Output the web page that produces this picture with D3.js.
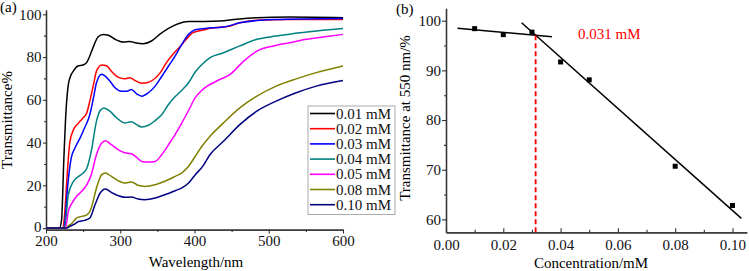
<!DOCTYPE html>
<html>
<head>
<meta charset="utf-8">
<script src="https://cdn.jsdelivr.net/npm/d3@7"></script>
<style>
    body { margin: 0; background: #fff; }
    svg text { font-family: "Liberation Serif", "Times New Roman", serif; }
</style>
</head>
<body>
<div id="vis"></div>
<script>

////////////////////////////////////////
////////////// Data ////////////////////
////////////////////////////////////////

// (a) transmittance spectra, [wavelength nm, T %]
const t001 = [[200,0],[218,0],[221,4],[224,32],[227,55],[230,67],[233,71],[237,73.5],[243,75.8],[250,76.3],[255,77.5],[259,80.5],[264,85],[270,89.4],[277,90.6],[284,90.2],[293,88.3],[304,87],[313,87.3],[320,86.7],[331,86.2],[342,87.5],[353,90.6],[365,93.4],[378,95.6],[392,96.6],[414,96.6],[434,96.8],[457,97.7],[484,98.4],[528,98.7],[600,98.4]]
const t002 = [[200,0],[222,0],[225,6],[228,22],[232,40],[237,46],[244,49.2],[250,51.6],[255,54],[259,59.4],[264,67.2],[268,73.4],[275,76.3],[282,75.8],[288,73.4],[297,70.6],[306,69.8],[313,70.3],[320,69],[329,67.8],[336,68],[345,69.5],[354,72.7],[362,77.3],[371,81.3],[380,84.7],[389,88.3],[398,91.4],[414,92.8],[421,93.4],[448,94.5],[461,96],[484,97.2],[528,97.6],[600,97.6]]
const t003 = [[200,0],[224,0],[226,5],[229,18.8],[234,32.8],[239,37.5],[246,42.2],[252,46.9],[259,53],[264,61],[268,68],[275,71.9],[280,71],[286,68.8],[293,65.6],[302,64],[309,64],[315,64.8],[322,62.8],[329,61.7],[338,63.3],[347,66.4],[356,71],[365,75.8],[374,80.5],[383,86],[392,90.6],[401,92.8],[414,93.4],[439,94],[461,96],[506,97.5],[600,98]]
const t004 = [[200,0],[225,0],[227,5],[230,15.6],[237,21.9],[244,24.2],[250,25.8],[255,28],[261,36],[268,50],[273,55],[278,56.2],[286,54.7],[295,51.6],[306,49.2],[315,49.7],[322,48.4],[329,47.3],[338,48.1],[347,50.3],[356,53.1],[365,57.8],[374,61.5],[383,64.5],[392,68],[401,73],[410,76.5],[421,79.7],[439,82],[461,85.2],[484,88.3],[510,89.8],[542,91.4],[573,92.5],[600,93.4]]
const t005 = [[200,0],[226,0],[228,3],[230,7.8],[235,11.7],[241,14.8],[248,17.2],[255,20.3],[261,25],[268,34.4],[275,39.8],[280,40.9],[288,39],[297,36.7],[306,35.2],[315,34.8],[322,33.1],[329,31.2],[338,30.9],[347,31.2],[356,34.4],[365,39],[374,43.8],[383,49.2],[392,55],[401,61],[410,64.5],[430,68.8],[448,71.9],[466,78],[484,82.8],[506,85.2],[528,86.7],[551,88.3],[573,89.4],[600,90.6]]
const t008 = [[200,0],[227,0],[230,1],[235,2.3],[241,4.7],[248,5.5],[255,6.2],[261,9.4],[268,18.8],[275,25],[280,25.8],[288,24.2],[297,22.2],[306,21.1],[315,21.6],[324,20],[333,19.5],[347,20.3],[360,21.9],[374,24.2],[383,25.8],[392,28.9],[401,33.6],[410,38.3],[421,43],[439,49.2],[461,56.2],[484,61.7],[510,66.4],[537,69.8],[564,72.7],[600,75.8]]
const t010 = [[200,0],[228,0],[232,0.8],[237,1.6],[244,3.1],[252,3.6],[259,4.7],[266,10.9],[273,16.4],[280,18.3],[288,16.7],[297,15.2],[306,14.4],[315,14.5],[324,13.6],[333,13.3],[347,14.1],[360,15.6],[374,17.5],[383,18.8],[392,21.1],[401,25],[410,28.4],[421,34.4],[439,40.6],[461,48.4],[484,54.7],[510,59.4],[537,63.3],[564,66.4],[600,69]]

const seriesLabels = ['0.01 mM', '0.02 mM', '0.03 mM', '0.04 mM', '0.05 mM', '0.08 mM', '0.10 mM']
const seriesData = [t001, t002, t003, t004, t005, t008, t010]
const seriesColors = ['#000000', '#ff0000', '#0000ff', '#008080', '#ff00ff', '#808000', '#000080']

const xTicksA = [200, 300, 400, 500, 600]
const yTicksA = [0, 20, 40, 60, 80, 100]

// (b) transmittance at 550 nm vs concentration
const concentration = [0.01, 0.02, 0.03, 0.04, 0.05, 0.08, 0.10]
const trans550 = [98.4, 97.2, 97.7, 91.7, 88.1, 70.7, 62.8]

// two linear fits: slope, intercept, x-range
const fitSlopes = [-51.5, -513.7]
const fitIntercepts = [98.7, 113.16]
const fitRanges = [[0.004, 0.037], [0.0264, 0.1031]]
const breakLabel = '0.031 mM'

const xTicksB = [0, 0.02, 0.04, 0.06, 0.08, 0.10]
const yTicksB = [60, 70, 80, 90, 100]

////////////////////////////////////////
////////////// SVG Setup ///////////////
////////////////////////////////////////

const W = 749, H = 271
const axisColor = '#333'
const fontSize = 15

const svg = d3.select('#vis').append('svg')
    .attr('width', W)
    .attr('height', H)

function styleAxis(g) {
    g.select('.domain').attr('stroke', axisColor).attr('stroke-width', 1.3)
    g.selectAll('.tick line').attr('stroke', axisColor).attr('stroke-width', 1.1)
    g.selectAll('.tick text')
        .attr('fill', '#111')
        .style('font-size', fontSize + 'px')
        .style('font-family', '"Liberation Serif", serif')
}

////////////////////////////////////////
////////////// Panel (a) ///////////////
////////////////////////////////////////

const xA = d3.scaleLinear().domain([200, 600]).range([46, 343])
const yA = d3.scaleLinear().domain([-0.7, 102]).range([229.6, 10])

const gA = svg.append('g')

// minor ticks
gA.append('g')
    .attr('transform', `translate(0,${yA.range()[0]})`)
    .call(d3.axisBottom(xA).tickValues(d3.range(250, 600, 100)).tickSize(2.5).tickSizeOuter(0).tickFormat(''))
    .call(styleAxis)
gA.append('g')
    .attr('transform', `translate(${xA.range()[0]},0)`)
    .call(d3.axisLeft(yA).tickValues(d3.range(10, 100, 20)).tickSize(2).tickSizeOuter(0).tickFormat(''))
    .call(styleAxis)

gA.append('g')
    .attr('transform', `translate(0,${yA.range()[0]})`)
    .call(d3.axisBottom(xA).tickValues(xTicksA).tickSize(4).tickPadding(2).tickSizeOuter(0))
    .call(styleAxis)

gA.append('g')
    .attr('transform', `translate(${xA.range()[0]},0)`)
    .call(d3.axisLeft(yA).tickValues(yTicksA).tickSize(3).tickPadding(1.5).tickSizeOuter(0))
    .call(styleAxis)

// nudge the "0" label up a touch so it clears "200"
gA.selectAll('.tick text').filter(d => d === 0).attr('dy', '0.2em')

const lineA = d3.line()
    .x(d => xA(d[0]))
    .y(d => yA(d[1]))
    .curve(d3.curveMonotoneX)

gA.selectAll('.spectrum')
    .data(seriesData)
    .join('path')
    .attr('class', 'spectrum')
    .attr('d', lineA)
    .attr('fill', 'none')
    .attr('stroke', (d, i) => seriesColors[i])
    .attr('stroke-width', 1.5)

// legend
const legend = gA.append('g')
legend.append('rect')
    .attr('x', 308).attr('y', 106)
    .attr('width', 87).attr('height', 108.5)
    .attr('fill', '#fff')
    .attr('stroke', '#aaa')
    .attr('stroke-width', 1)

const legendItems = legend.selectAll('.item')
    .data(seriesLabels)
    .join('g')
    .attr('class', 'item')
    .attr('transform', (d, i) => `translate(0,${113.5 + i * 15.2})`)

legendItems.append('line')
    .attr('x1', 310).attr('x2', 335)
    .attr('stroke', (d, i) => seriesColors[i])
    .attr('stroke-width', 1.6)

legendItems.append('text')
    .attr('x', 336)
    .attr('y', 5)
    .style('font-size', fontSize + 'px')
    .attr('fill', '#111')
    .text(d => d)

// axis titles
gA.append('text')
    .attr('x', 196).attr('y', 267)
    .attr('text-anchor', 'middle')
    .style('font-size', fontSize + 'px')
    .text('Wavelength/nm')

gA.append('text')
    .attr('transform', 'translate(12,120) rotate(-90)')
    .attr('text-anchor', 'middle')
    .style('font-size', fontSize + 'px')
    .text('Transmittance%')

gA.append('text')
    .attr('x', 0).attr('y', 12)
    .style('font-size', fontSize + 'px')
    .text('(a)')

////////////////////////////////////////
////////////// Panel (b) ///////////////
////////////////////////////////////////

const xB = d3.scaleLinear().domain([0, 0.105]).range([446, 746.8])
const yB = d3.scaleLinear().domain([57.4, 102.5]).range([232.3, 8.3])

const gB = svg.append('g')

gB.append('g')
    .attr('transform', `translate(0,${yB.range()[0]})`)
    .call(d3.axisBottom(xB).tickValues(d3.range(0.01, 0.105, 0.02)).tickSize(-2.5).tickSizeOuter(0).tickFormat(''))
    .call(styleAxis)
gB.append('g')
    .attr('transform', `translate(${xB.range()[0]},0)`)
    .call(d3.axisLeft(yB).tickValues([65, 75, 85, 95]).tickSize(2).tickSizeOuter(0).tickFormat(''))
    .call(styleAxis)

gB.append('g')
    .attr('transform', `translate(0,${yB.range()[0]})`)
    .call(d3.axisBottom(xB).tickValues(xTicksB).tickSize(-4).tickPadding(7).tickSizeOuter(0).tickFormat(d3.format('.2f')))
    .call(styleAxis)

gB.append('g')
    .attr('transform', `translate(${xB.range()[0]},0)`)
    .call(d3.axisLeft(yB).tickValues(yTicksB).tickSize(4).tickPadding(1).tickSizeOuter(0))
    .call(styleAxis)

// fit lines
const fits = fitSlopes.map((s, i) => fitRanges[i].map(x => [x, s * x + fitIntercepts[i]]))

gB.selectAll('.fit')
    .data(fits)
    .join('path')
    .attr('class', 'fit')
    .attr('d', d3.line().x(d => xB(d[0])).y(d => yB(d[1])))
    .attr('fill', 'none')
    .attr('stroke', '#000')
    .attr('stroke-width', 1.5)

// intersection of the two fits -> red dashed drop line
const xCross = (fitIntercepts[1] - fitIntercepts[0]) / (fitSlopes[0] - fitSlopes[1])
const yCross = fitSlopes[0] * xCross + fitIntercepts[0]

gB.append('line')
    .attr('x1', xB(xCross)).attr('x2', xB(xCross))
    .attr('y1', yB(yCross)).attr('y2', yB.range()[0])
    .attr('stroke', '#ff0000')
    .attr('stroke-width', 1.8)
    .attr('stroke-dasharray', '5,3')

gB.append('text')
    .attr('x', 578).attr('y', 39)
    .attr('fill', '#ff0000')
    .style('font-size', fontSize + 'px')
    .text(breakLabel)

// points
gB.selectAll('.pt')
    .data(concentration)
    .join('rect')
    .attr('class', 'pt')
    .attr('x', d => xB(d) - 2.5)
    .attr('y', (d, i) => yB(trans550[i]) - 2.5)
    .attr('width', 5)
    .attr('height', 5)
    .attr('fill', '#000')

gB.append('text')
    .attr('x', 591).attr('y', 268)
    .attr('text-anchor', 'middle')
    .style('font-size', fontSize + 'px')
    .text('Concentration/mM')

gB.append('text')
    .attr('transform', 'translate(410,118) rotate(-90)')
    .attr('text-anchor', 'middle')
    .style('font-size', fontSize + 'px')
    .text('Transmittance at 550 nm/%')

gB.append('text')
    .attr('x', 396).attr('y', 14)
    .style('font-size', fontSize + 'px')
    .text('(b)')

</script>
</body>
</html>
